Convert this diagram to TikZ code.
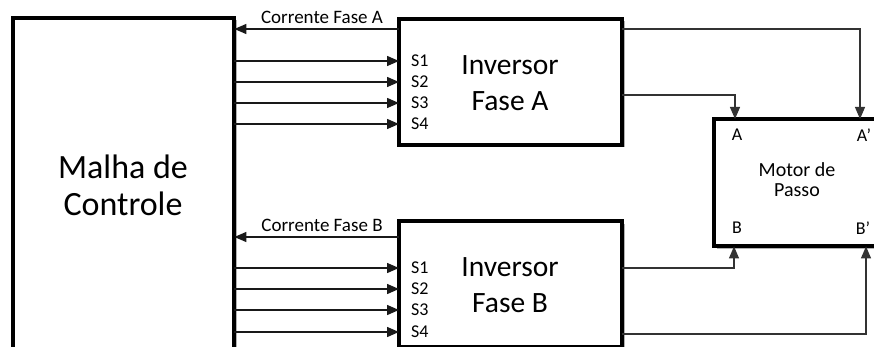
\documentclass[tikz,border=0pt]{standalone}
\usepackage{fontspec}
\setmainfont{Carlito}
\usetikzlibrary{arrows.meta,shadows,calc}
\begin{document}
\begin{tikzpicture}[x=1pt,y=-1pt,
  block/.style={draw=black, line width=3.2pt, fill=white, inner sep=0pt,
    drop shadow={shadow xshift=2.5pt, shadow yshift=-2.5pt, opacity=0.3, fill=black}},
  sig/.style={line width=1.4pt, draw=black!90, -{Triangle[length=12pt,width=10pt]}},
  wire/.style={line width=1.2pt, draw=black!80, -{Triangle[length=12pt,width=10pt]}},
  slab/.style={anchor=west, inner sep=0pt, font=\fontsize{18}{20}\selectfont},
  ilab/.style={inner sep=0pt, font=\fontsize{18}{20}\selectfont},
  clab/.style={anchor=base, inner sep=0pt, font=\fontsize{19}{21}\selectfont},
]
\useasboundingbox (0,0) rectangle (874,347);

% blocks
\path[block] (13,18) rectangle (234,350);
\node (malha) [inner sep=0pt, minimum width=221pt, minimum height=332pt, anchor=north west] at (13,18) {};
\path[block] (399,19) rectangle (622,145);
\node (invA) [inner sep=0pt, minimum width=223pt, minimum height=126pt, anchor=north west] at (399,19) {};
\path[block] (399,221) rectangle (622,347);
\node (invB) [inner sep=0pt, minimum width=223pt, minimum height=126pt, anchor=north west] at (399,221) {};
\path[block] (714,119) rectangle (880,246);
\node (motor) [inner sep=0pt, minimum width=166pt, minimum height=127pt, anchor=north west] at (714,119) {};

% block texts
\node (malhaT) [align=center, inner sep=0pt, font=\fontsize{34}{37}\selectfont] at (123,185) {Malha de\\Controle};
\node (invAT) [align=center, inner sep=0pt, font=\fontsize{29.5}{36}\selectfont] at (510,83) {Inversor\\Fase A};
\node (invBT) [align=center, inner sep=0pt, font=\fontsize{29.5}{36}\selectfont] at (510,285) {Inversor\\Fase B};
\node (motorT) [align=center, inner sep=0pt, font=\fontsize{20}{20}\selectfont] at (797,180) {Motor de\\Passo};

% motor terminals
\node[ilab] (tA) at (737,135) {A};
\node[ilab] (tAp) at (864,135) {A’};
\node[ilab] (tB) at (737,228) {B};
\node[ilab] (tBp) at (863,228) {B’};

% switch inputs, phase A
\node[slab] (a1) at (411,61) {S1};
\node[slab] (a2) at (411,82) {S2};
\node[slab] (a3) at (411,103) {S3};
\node[slab] (a4) at (411,124) {S4};
% switch inputs, phase B
\node[slab] (b1) at (411,268) {S1};
\node[slab] (b2) at (411,289) {S2};
\node[slab] (b3) at (411,310) {S3};
\node[slab] (b4) at (411,332) {S4};

\foreach \s in {a1,a2,a3,a4,b1,b2,b3,b4}
  \draw[sig] (malha.east |- \s) -- (invA.west |- \s);

% current feedback
\coordinate (fbA) at (0,29);
\coordinate (fbB) at (0,237);
\draw[sig] (invA.west |- fbA) -- (malha.east |- fbA);
\draw[sig] (invB.west |- fbB) -- (malha.east |- fbB);
\node[clab] (cA) at (322,23.5) {Corrente Fase A};
\node[clab] (cB) at (322,231) {Corrente Fase B};

% motor windings
\coordinate (yA1) at (0,29);
\coordinate (yA2) at (0,95);
\coordinate (yB1) at (0,268);
\coordinate (yB2) at (0,334);
\coordinate (xA) at (735,0);
\coordinate (xAp) at (860,0);
\coordinate (xB) at (734,0);
\coordinate (xBp) at (866,0);
\draw[wire] (invA.east |- yA1) -| (xAp |- motor.north);
\draw[wire] (invA.east |- yA2) -| (xA |- motor.north);
\draw[wire] (invB.east |- yB1) -| (xB |- motor.south);
\draw[wire] (invB.east |- yB2) -| (xBp |- motor.south);
\end{tikzpicture}
\end{document}
